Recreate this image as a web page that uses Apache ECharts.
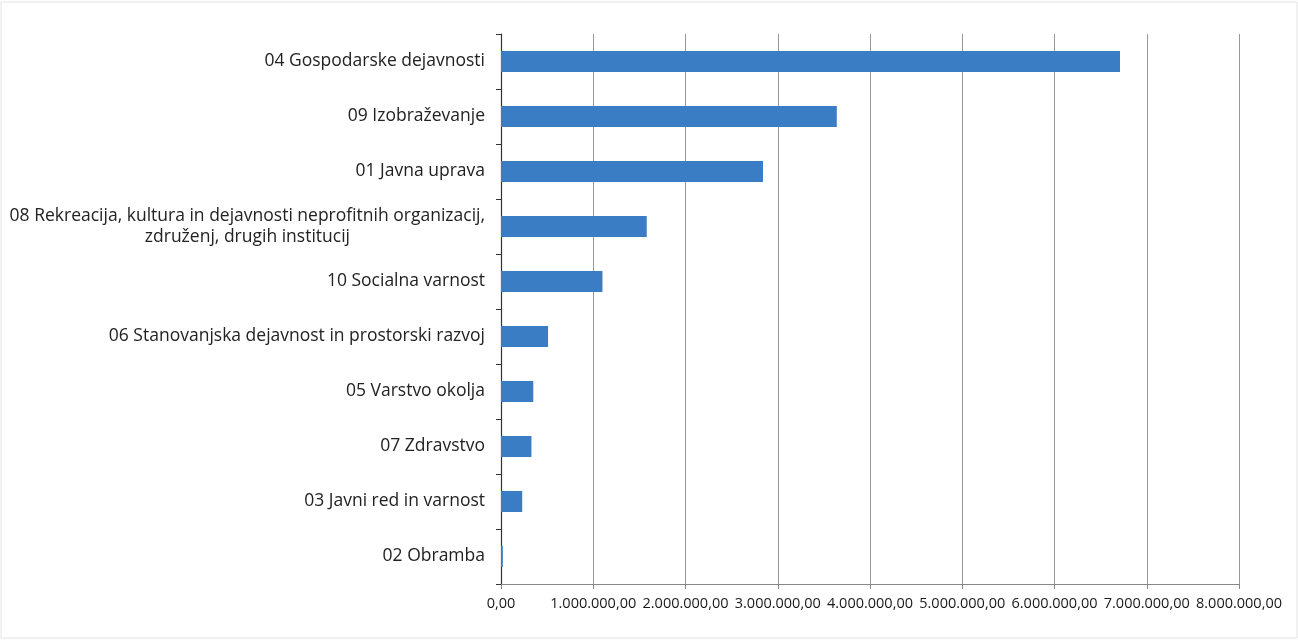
<!DOCTYPE html>
<html><head><meta charset="utf-8">
<script src="https://cdn.jsdelivr.net/npm/echarts@6/dist/echarts.min.js"></script>
<style>html,body{margin:0;padding:0;background:#fff}#c{width:1298px;height:641px}</style>
</head><body><div id="c"></div>
<script>
const categories = [
  "04 Gospodarske dejavnosti",
  "09 Izobraževanje",
  "01 Javna uprava",
  "08 Rekreacija, kultura in dejavnosti neprofitnih organizacij,\nzdruženj, drugih institucij",
  "10 Socialna varnost",
  "06 Stanovanjska dejavnost in prostorski razvoj",
  "05 Varstvo okolja",
  "07 Zdravstvo",
  "03 Javni red in varnost",
  "02 Obramba"
];
const values = [6710000, 3640000, 2840000, 1580000, 1100000, 510000, 350000, 330000, 230000, 20000];
const xTicks = [0, 1000000, 2000000, 3000000, 4000000, 5000000, 6000000, 7000000, 8000000];

const FONT = '"Open Sans", sans-serif';
const LFS = 17.5;
const ctx = document.createElement('canvas').getContext('2d');
ctx.font = LFS + 'px "Open Sans", sans-serif';
const parts = categories[3].split('\n');
const PAD = Math.max(0, Math.round((ctx.measureText(parts[0]).width - ctx.measureText(parts[1]).width) / 2));

function fmt(v){
  const s = Math.round(v).toString().replace(/\B(?=(\d{3})+(?!\d))/g, '.');
  return s + ',00';
}

const chart = echarts.init(document.getElementById('c'));
chart.setOption({
  animation:false,
  backgroundColor:'#fff',
  graphic:[{type:'rect',shape:{x:1,y:2,width:1296,height:636},style:{fill:'none',stroke:'#e4e4e4',lineWidth:1}}],
  grid:{left:501,right:59,top:34,height:550},
  xAxis:{type:'value',min:xTicks[0],max:xTicks[xTicks.length-1],interval:xTicks[1]-xTicks[0],
    axisLine:{show:true,lineStyle:{color:'#888',width:1}},
    axisTick:{show:true,length:5,lineStyle:{color:'#888'}},
    splitLine:{show:true,lineStyle:{color:'#999',width:1}},
    axisLabel:{color:'#1a1a1a',fontFamily:FONT,fontSize:14.5,margin:12,formatter:v=>fmt(v)}
  },
  yAxis:{type:'category',inverse:true,data:categories,
    axisLine:{show:true,lineStyle:{color:'#333',width:1.2}},
    axisTick:{show:true,length:5,lineStyle:{color:'#333'}},
    axisLabel:{color:'#222',fontFamily:FONT,fontSize:LFS,margin:16,lineHeight:21,
      formatter:function(v){
        if(v.indexOf('\n')<0) return v;
        const p=v.split('\n');
        return '{a|'+p[0]+'}\n{b|'+p[1]+'}';
      },
      rich:{
        a:{fontFamily:FONT,fontSize:LFS,color:'#222',lineHeight:21},
        b:{fontFamily:FONT,fontSize:LFS,color:'#222',lineHeight:21,padding:[0,PAD,0,0]}
      }
    }
  },
  series:[{type:'bar',data:values,barWidth:21,itemStyle:{color:'#3b7dc4'}}]
});
</script></body></html>
